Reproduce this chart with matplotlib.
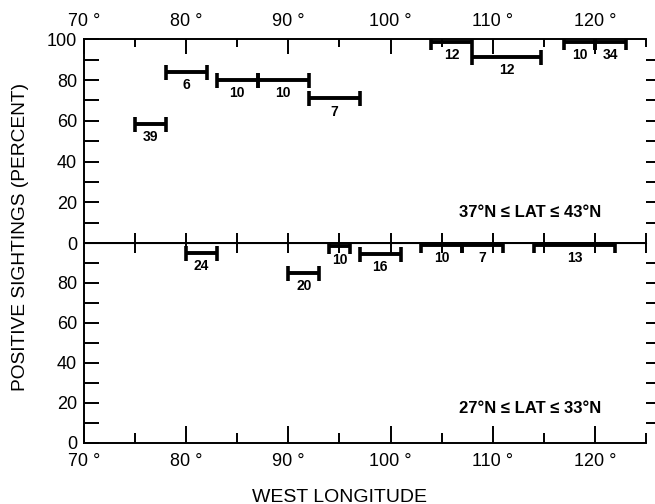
import matplotlib.pyplot as plt
import numpy as np

plt.rcParams['font.family'] = ['Liberation Sans', 'DejaVu Sans']

# upper panel: 37N <= lat <= 43N
top_lo = [75, 78, 83, 87, 92, 104, 108, 117, 120]
top_hi = [78, 82, 87, 92, 97, 108, 114.7, 120, 123]
top_pct = [58.4, 84, 80, 80, 71, 98.8, 91.5, 98.8, 98.8]
top_n = ["39", "6", "10", "10", "7", "12", "12", "10", "34"]

# lower panel: 27N <= lat <= 33N
bot_lo = [80, 90, 94, 97, 103, 107, 114]
bot_hi = [83, 93, 96, 101, 107, 111, 122]
bot_pct = [95, 85, 98.4, 94.7, 99.2, 99.2, 99.2]
bot_n = ["24", "20", "10", "16", "10", "7", "13"]

lon_ticks = [70, 80, 90, 100, 110, 120]
lon_labels = ["70 °", "80 °", "90 °", "100 °", "110 °", "120 °"]

fig = plt.figure(figsize=(6.55, 5.04), dpi=100)
left, width = 84 / 655, (646 - 84) / 655
y_bot, y_mid, y_top = 1 - 442.7 / 504, 1 - 243 / 504, 1 - 39.3 / 504
ax1 = fig.add_axes([left, y_mid, width, y_top - y_mid])
ax2 = fig.add_axes([left, y_bot, width, y_mid - y_bot])

lw_spine = 1.4
tick_fs = 13


def draw_bars(ax, lo, hi, pct, n):
    lo = np.array(lo)
    hi = np.array(hi)
    mid = (lo + hi) / 2
    ax.errorbar(mid, pct, xerr=(hi - lo) / 2, fmt='none', ecolor='black',
                elinewidth=2.8, capsize=5.4, capthick=2.6)
    for x, y, s in zip(mid, pct, n):
        ax.annotate(s, (x, y), xytext=(0, -9.6), textcoords='offset points',
                    ha='center', va='center', fontsize=10, fontweight='bold')


def style(ax, ylabels):
    ax.set_xlim(70, 125)
    ax.set_ylim(0, 100)
    ax.spines['right'].set_visible(False)
    for s in ['left', 'top', 'bottom']:
        ax.spines[s].set_linewidth(lw_spine)
    ax.set_xticks(lon_ticks)
    ax.set_xticks(np.arange(75, 126, 10), minor=True)
    ax.set_yticks(ylabels)
    ax.set_yticks(np.arange(10, 100, 20), minor=True)
    ax.tick_params(axis='y', which='both', direction='in', length=11,
                   width=1.4, labelsize=tick_fs, pad=5)
    sec = ax.secondary_yaxis('right')
    sec.set_yticks(np.arange(10, 100, 10))
    sec.set_yticklabels([])
    sec.tick_params(direction='out', length=8, width=1.4)
    sec.spines['right'].set_visible(False)


style(ax1, [0, 20, 40, 60, 80, 100])
style(ax2, [0, 20, 40, 60, 80])

ax1.tick_params(axis='x', which='both', direction='in', top=True, bottom=False,
                labeltop=True, labelbottom=False, width=1.4,
                labelsize=tick_fs, pad=6.5)
ax1.tick_params(axis='x', which='major', length=11)
ax1.tick_params(axis='x', which='minor', length=6)
ax1.set_xticklabels(lon_labels)

ax2.tick_params(axis='x', which='both', direction='in', top=False, bottom=True,
                width=1.4, labelsize=tick_fs, pad=7.5)
ax2.tick_params(axis='x', which='major', length=12)
ax2.tick_params(axis='x', which='minor', length=7)
ax2.set_xticklabels(lon_labels)

mid_ax = ax2.secondary_xaxis('top')
mid_ax.set_xticks(np.arange(75, 126, 5))
mid_ax.set_xticklabels([])
mid_ax.tick_params(direction='inout', length=15, width=1.4)

draw_bars(ax1, top_lo, top_hi, top_pct, top_n)
draw_bars(ax2, bot_lo, bot_hi, bot_pct, bot_n)

ax1.text(0.794, 0.152, "37°N ≤ LAT ≤ 43°N", transform=ax1.transAxes,
         ha='center', va='center', fontsize=12, fontweight='bold')
ax2.text(0.794, 0.173, "27°N ≤ LAT ≤ 33°N", transform=ax2.transAxes,
         ha='center', va='center', fontsize=12, fontweight='bold')

fig.text(0.031, 0.529, "POSITIVE SIGHTINGS (PERCENT)", rotation=90,
         ha='center', va='center', fontsize=13.8)
fig.text(340 / 655, 1 - 497 / 504, "WEST LONGITUDE", ha='center',
         va='center', fontsize=14)

fig.savefig("out.png", dpi=100)
